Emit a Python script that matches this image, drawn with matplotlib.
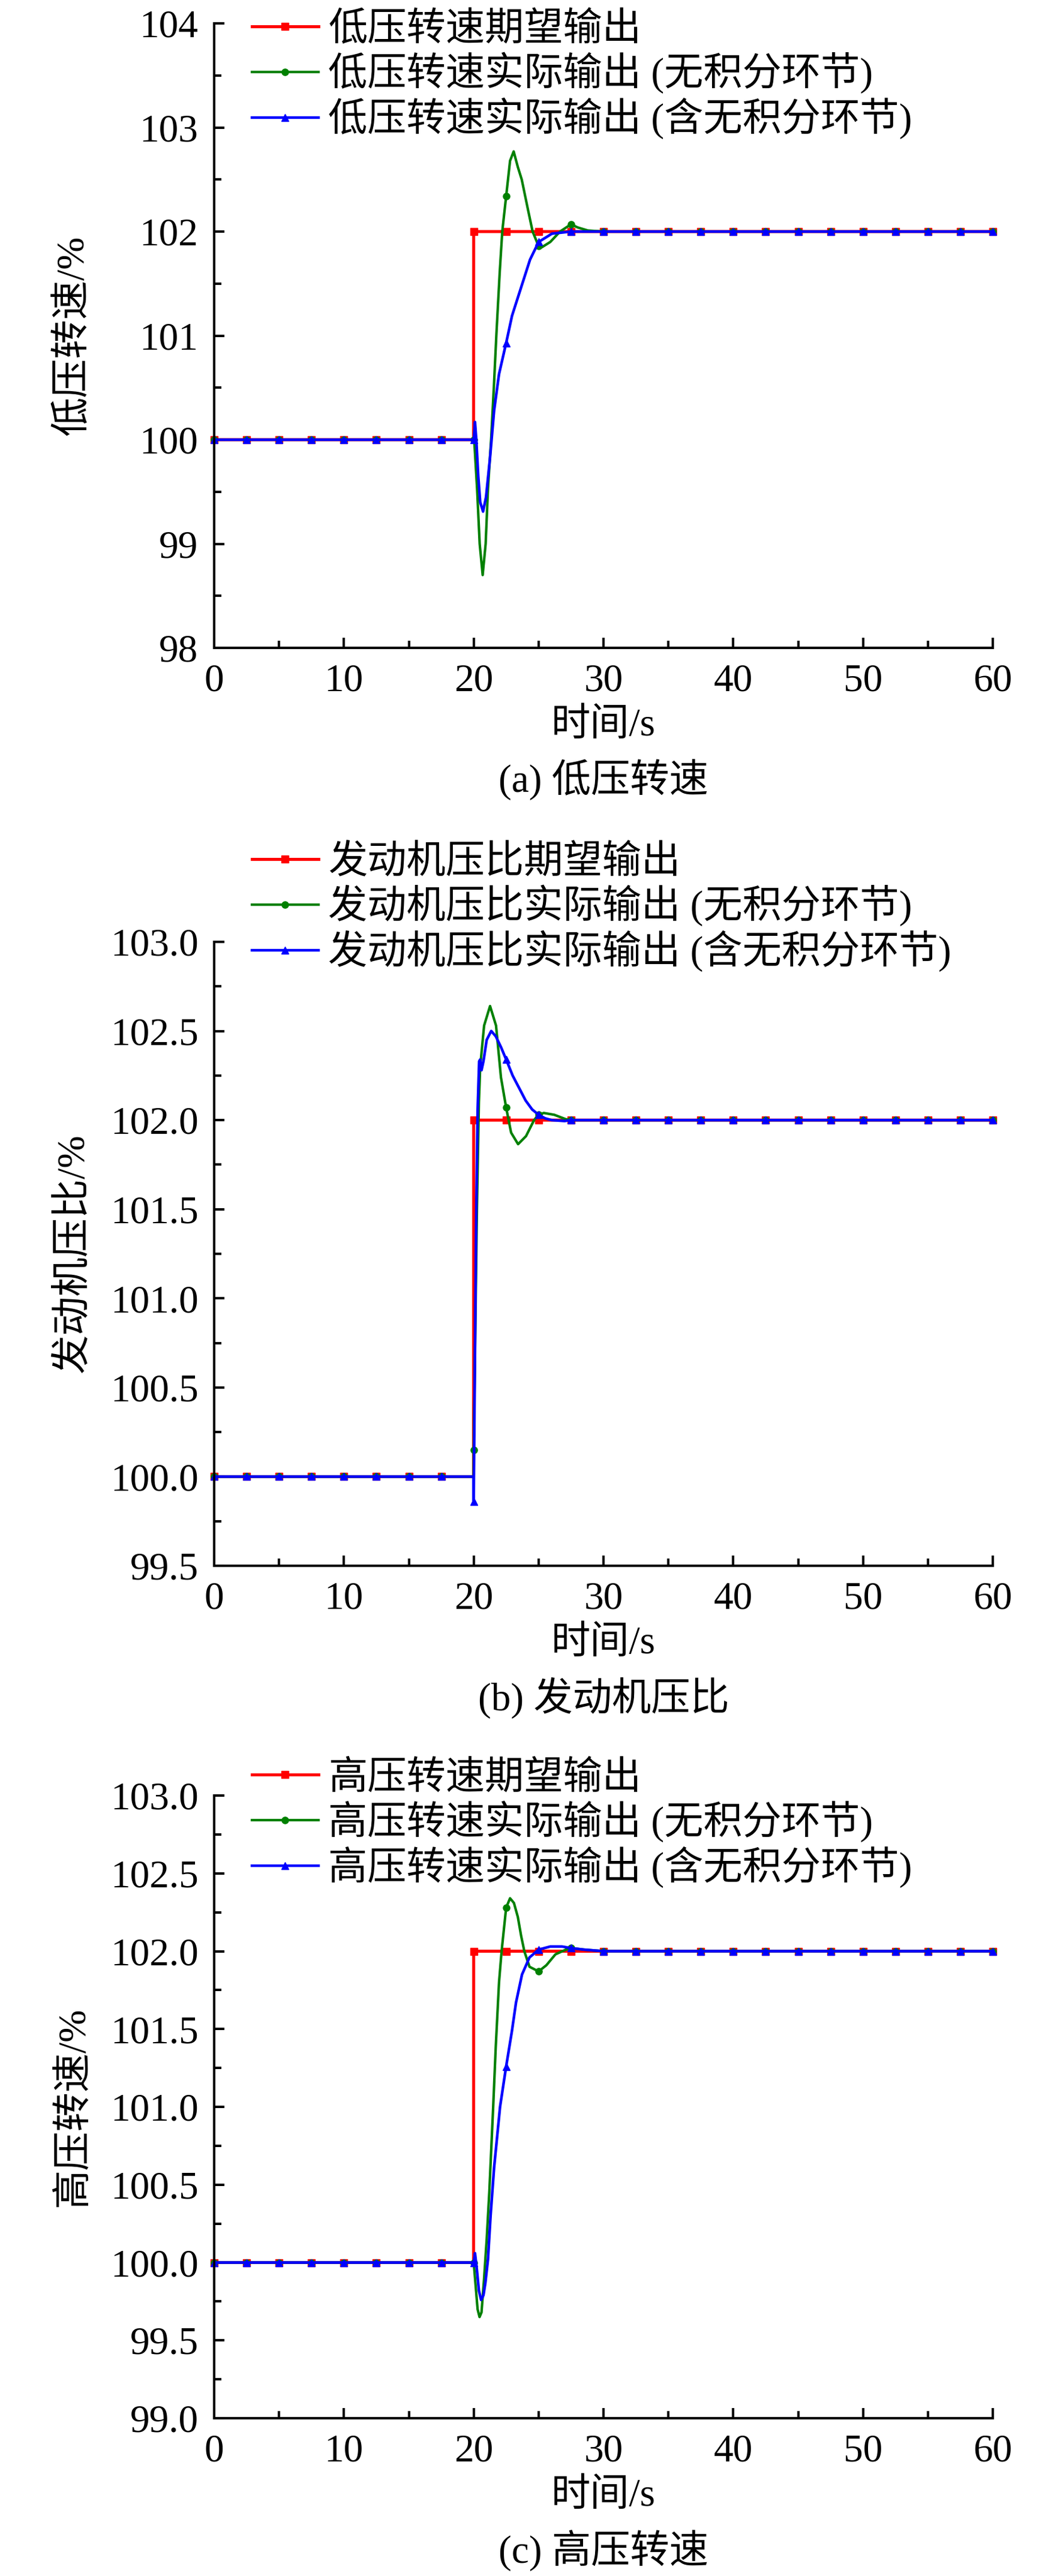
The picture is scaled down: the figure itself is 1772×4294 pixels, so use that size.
import numpy as np
import matplotlib
matplotlib.use("Agg")
import matplotlib.pyplot as plt
from matplotlib.ticker import MultipleLocator, FormatStrFormatter

plt.rcParams['font.family'] = ['Liberation Serif', 'Noto Sans CJK SC']
plt.rcParams['axes.unicode_minus'] = False

FS = 47  # pt at dpi 100

# ---------------------------------------------------------------------------
# data (time in s, values in %)
# ---------------------------------------------------------------------------
T_PRE = [0.0, 2.5, 5.0, 7.5, 10.0, 12.5, 15.0, 17.5]
T_POST = [30.0, 32.5, 35.0, 37.5, 40.0, 42.5, 45.0, 47.5, 50.0, 52.5, 55.0, 57.5, 60.0]
Y_PRE = [100.0] * len(T_PRE)
Y_POST = [102.0] * len(T_POST)

# desired output: step at t=20
REF_T = [19.99, 20.0, 22.5, 25.0, 27.5]
REF_Y = [100.0, 102.0, 102.0, 102.0, 102.0]

# (a) low-pressure spool speed
A_GREEN_T = [20.0, 20.06, 20.26, 20.46, 20.69, 20.92, 21.1, 21.34, 21.55, 21.75, 22.0, 22.2,
             22.5, 22.8, 23.08, 23.4, 23.7, 24.2, 24.54, 25.0, 25.26, 25.9, 26.65, 27.5,
             28.0, 28.8]
A_GREEN_Y = [100.0, 99.95, 99.53, 99.0, 98.70, 99.0, 99.53, 100.0, 100.5, 101.02, 101.6, 102.0,
             102.34, 102.68, 102.77, 102.62, 102.5, 102.2, 102.0, 101.86, 101.85, 101.9, 102.0,
             102.07, 102.04, 102.01]
A_BLUE_T = [20.0, 20.1, 20.2, 20.35, 20.5, 20.72, 20.95, 21.26, 21.57, 21.95, 22.5, 22.95,
            23.72, 24.34, 25.0, 26.03, 27.5]
A_BLUE_Y = [100.0, 100.17, 100.0, 99.65, 99.4, 99.31, 99.45, 99.83, 100.28, 100.63, 100.93,
            101.19, 101.49, 101.73, 101.9, 101.98, 102.0]

# (b) engine pressure ratio
B_GREEN_T = [19.99, 20.0, 20.1, 20.25, 20.4, 20.5, 20.8, 21.26, 21.72, 22.1, 22.5, 22.88,
             23.42, 24.03, 24.65, 25.0, 25.4, 26.2, 27.1, 27.5]
B_GREEN_Y = [100.0, 100.15, 100.7, 101.5, 102.1, 102.3, 102.53, 102.64, 102.53, 102.24, 102.07,
             101.93, 101.865, 101.91, 102.0, 102.03, 102.04, 102.03, 102.005, 102.0]
B_BLUE_T = [19.99, 20.0, 20.1, 20.2, 20.3, 20.42, 20.5, 20.6, 20.75, 21.0, 21.35, 21.7, 22.1,
            22.5, 23.0, 23.5, 24.0, 24.5, 25.0, 25.5, 26.0, 27.0, 27.5]
B_BLUE_Y = [100.0, 99.86, 100.7, 101.5, 102.05, 102.33, 102.34, 102.28, 102.33, 102.45, 102.5,
            102.47, 102.41, 102.34, 102.25, 102.18, 102.11, 102.06, 102.03, 102.01, 102.0,
            101.995, 102.0]

# (c) high-pressure spool speed
C_GREEN_T = [20.0, 20.15, 20.3, 20.45, 20.6, 20.8, 21.0, 21.2, 21.5, 21.7, 21.95, 22.15, 22.5,
             22.8, 23.1, 23.4, 23.65, 23.9, 24.3, 25.0, 25.6, 26.3, 27.1, 27.5, 28.5]
C_GREEN_Y = [100.0, 99.85, 99.7, 99.65, 99.68, 99.9, 100.15, 100.45, 101.0, 101.39, 101.8, 102.0,
             102.28, 102.34, 102.31, 102.22, 102.1, 102.0, 101.9, 101.87, 101.91, 101.98, 102.01,
             102.02, 102.01]
C_BLUE_T = [20.0, 20.1, 20.25, 20.4, 20.57, 20.75, 20.9, 21.1, 21.3, 21.57, 22.03, 22.5, 22.95,
            23.26, 23.72, 24.3, 25.0, 25.9, 26.8, 27.5, 28.5]
C_BLUE_Y = [100.0, 100.06, 99.95, 99.82, 99.76, 99.79, 99.87, 100.02, 100.3, 100.61, 101.0,
            101.26, 101.49, 101.67, 101.85, 101.96, 102.01, 102.03, 102.03, 102.02, 102.01]

PANELS = [
    dict(name='低压转速', tag='(a)', ylabel='低压转速/%', ylim=(98, 104), major=1.0, fmt='%d',
         green=(A_GREEN_T, A_GREEN_Y), blue=(A_BLUE_T, A_BLUE_Y),
         top=39, bottom=1080, legend_mid=126),
    dict(name='发动机压比', tag='(b)', ylabel='发动机压比/%', ylim=(99.5, 103.0), major=0.5, fmt='%.1f',
         green=(B_GREEN_T, B_GREEN_Y), blue=(B_BLUE_T, B_BLUE_Y),
         top=1570, bottom=2610, legend_mid=1514),
    dict(name='高压转速', tag='(c)', ylabel='高压转速/%', ylim=(99.0, 103.0), major=0.5, fmt='%.1f',
         green=(C_GREEN_T, C_GREEN_Y), blue=(C_BLUE_T, C_BLUE_Y),
         top=2993, bottom=4031, legend_mid=3041),
]

W, H = 1772, 4294
LEFT, RIGHT = 357, 1655


def full_series(tt, yy):
    """Pad a transient with the flat segments before/after it."""
    t = np.array(T_PRE + list(tt) + T_POST)
    y = np.array(Y_PRE + list(yy) + Y_POST)
    return t, y


def marker_mask(t):
    q = t / 2.5
    return np.abs(q - np.round(q)) < 1e-6


def draw_panel(fig, p):
    ax = fig.add_axes([LEFT / W, 1 - p['bottom'] / H,
                       (RIGHT - LEFT) / W, (p['bottom'] - p['top']) / H])
    series = [
        ('期望输出', REF_T, REF_Y, '#ff0000', 's', 3.6),
        ('实际输出 (无积分环节)', *p['green'], '#008000', 'o', 3.0),
        ('实际输出 (含无积分环节)', *p['blue'], '#0000ff', '^', 3.2),
    ]
    for suffix, tt, yy, color, mk, lw in series:
        t, y = full_series(tt, yy)
        ax.plot(t, y, color=color, lw=lw, marker=mk, markersize=8,
                markevery=list(np.where(marker_mask(t))[0]), clip_on=False,
                label=p['name'] + suffix)

    ax.set_xlim(0, 60)
    ax.set_ylim(*p['ylim'])
    ax.xaxis.set_major_locator(MultipleLocator(10))
    ax.xaxis.set_minor_locator(MultipleLocator(5))
    ax.yaxis.set_major_locator(MultipleLocator(p['major']))
    ax.yaxis.set_minor_locator(MultipleLocator(p['major'] / 2))
    ax.yaxis.set_major_formatter(FormatStrFormatter(p['fmt']))
    for s in ('top', 'right'):
        ax.spines[s].set_visible(False)
    for s in ('left', 'bottom'):
        ax.spines[s].set_linewidth(2.9)
    ax.tick_params(which='both', direction='in', width=2.9, labelsize=FS, pad=19,
                   top=False, right=False)
    ax.tick_params(which='major', length=12.2)
    ax.tick_params(which='minor', length=8.6)

    hgt = p['bottom'] - p['top']
    ax.set_xlabel('时间/s', fontsize=FS)
    ax.xaxis.label.set_va('center')
    ax.xaxis.set_label_coords(0.5, -130 / hgt)
    ax.set_ylabel(p['ylabel'], fontsize=FS)
    ax.yaxis.label.set_va('center')
    ax.yaxis.set_label_coords((122 - LEFT) / (RIGHT - LEFT), 0.5)
    ax.text(0.5, -220 / hgt, f"{p['tag']} {p['name']}", transform=ax.transAxes,
            ha='center', va='center', fontsize=FS)

    ax.legend(loc='center left', bbox_to_anchor=(420 / W, 1 - p['legend_mid'] / H),
              bbox_transform=fig.transFigure, frameon=False, fontsize=FS,
              borderpad=0, borderaxespad=0, handlelength=1.7, handletextpad=0.25,
              labelspacing=0.1, numpoints=1)
    return ax


fig = plt.figure(figsize=(W / 100, H / 100), dpi=100)
for p in PANELS:
    draw_panel(fig, p)
fig.savefig('out.png', dpi=100, facecolor='white')
